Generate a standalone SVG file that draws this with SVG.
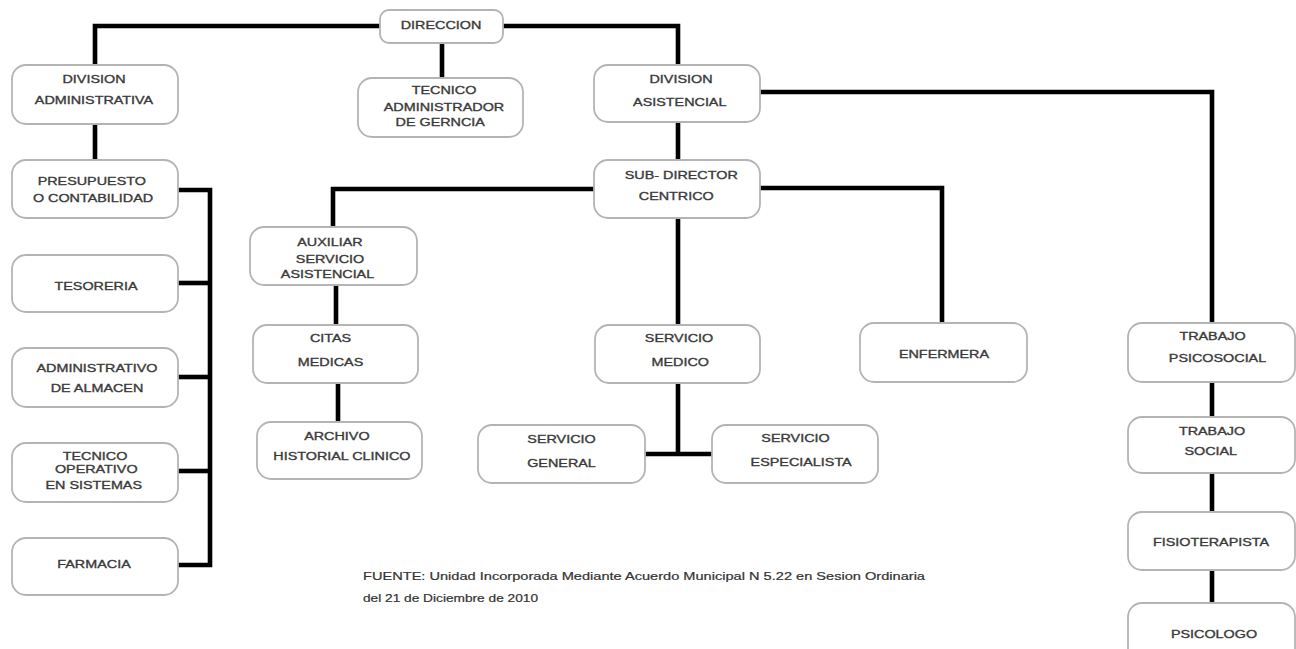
<svg xmlns="http://www.w3.org/2000/svg" width="1296" height="649" viewBox="0 0 1296 649">
<style>
.box{fill:#fff;stroke:#b4b4b4;stroke-width:1.8}
.t{font-family:"Liberation Sans",Arial,sans-serif;font-size:11.5px;fill:#3a3a3a;stroke:#3a3a3a;stroke-width:0.35;text-anchor:middle}
.c{fill:none;stroke:#000;stroke-width:4.6;stroke-linejoin:miter;stroke-linecap:butt}
.f{font-family:"Liberation Sans",Arial,sans-serif;font-size:11px;fill:#333;stroke:#333;stroke-width:0.2}
</style>
<rect width="1296" height="649" fill="#fff"/>
<g id="connectors">
<path class="c" d="M380,26 H95 V65"/>
<path class="c" d="M503,26 H678 V65"/>
<path class="c" d="M442,43 V78"/>
<path class="c" d="M95,124 V160"/>
<path class="c" d="M178,190 H210 V565 H178"/>
<path class="c" d="M178,283 H210"/>
<path class="c" d="M178,377 H210"/>
<path class="c" d="M178,471 H210"/>
<path class="c" d="M678,122 V160"/>
<path class="c" d="M760,92 H1212 V323"/>
<path class="c" d="M594,189 H333 V227"/>
<path class="c" d="M760,188 H942 V323"/>
<path class="c" d="M678,218 V325"/>
<path class="c" d="M336,285 V325"/>
<path class="c" d="M338,383 V422"/>
<path class="c" d="M678,383 V454"/>
<path class="c" d="M645,454 H712"/>
<path class="c" d="M1212,382 V417"/>
<path class="c" d="M1212,473 V512"/>
<path class="c" d="M1212,570 V603"/>
</g>
<g id="direccion">
<rect class="box" x="380" y="10" width="123" height="33" rx="9"/>
<text class="t" transform="matrix(1.25 0 0 1 441 29)">DIRECCION</text>
</g>
<g id="division-administrativa">
<rect class="box" x="12" y="65" width="166" height="59" rx="14"/>
<text class="t" transform="matrix(1.25 0 0 1 94 0)"><tspan x="0" y="83">DIVISION</tspan><tspan x="0" y="104">ADMINISTRATIVA</tspan></text>
</g>
<g id="tecnico-administrador">
<rect class="box" x="358" y="78" width="165" height="59" rx="14"/>
<text class="t" transform="matrix(1.25 0 0 1 444 0)"><tspan x="0" y="94">TECNICO</tspan><tspan x="0" y="111">ADMINISTRADOR</tspan><tspan x="-3" y="126.5">DE GERNCIA</tspan></text>
</g>
<g id="division-asistencial">
<rect class="box" x="594" y="65" width="166" height="57" rx="14"/>
<text class="t" transform="matrix(1.25 0 0 1 681 0)"><tspan x="0" y="83">DIVISION</tspan><tspan x="-1" y="106">ASISTENCIAL</tspan></text>
</g>
<g id="presupuesto">
<rect class="box" x="12" y="160" width="166" height="58" rx="14"/>
<text class="t" transform="matrix(1.25 0 0 1 93 0)"><tspan x="-1" y="185">PRESUPUESTO</tspan><tspan x="0" y="202.5">O CONTABILIDAD</tspan></text>
</g>
<g id="sub-director">
<rect class="box" x="594" y="160" width="166" height="58" rx="14"/>
<text class="t" transform="matrix(1.25 0 0 1 680 0)"><tspan x="1" y="179">SUB- DIRECTOR</tspan><tspan x="-3" y="200">CENTRICO</tspan></text>
</g>
<g id="tesoreria">
<rect class="box" x="12" y="255" width="166" height="57" rx="14"/>
<text class="t" transform="matrix(1.25 0 0 1 96 290)">TESORERIA</text>
</g>
<g id="administrativo-almacen">
<rect class="box" x="12" y="348" width="166" height="59" rx="14"/>
<text class="t" transform="matrix(1.25 0 0 1 97 0)"><tspan x="0" y="372.5">ADMINISTRATIVO</tspan><tspan x="0" y="392">DE ALMACEN</tspan></text>
</g>
<g id="tecnico-operativo">
<rect class="box" x="12" y="443" width="166" height="59" rx="14"/>
<text class="t" transform="matrix(1.25 0 0 1 95 0)"><tspan x="0" y="460">TECNICO</tspan><tspan x="1" y="473.5">OPERATIVO</tspan><tspan x="-1" y="489">EN SISTEMAS</tspan></text>
</g>
<g id="farmacia">
<rect class="box" x="12" y="538" width="166" height="57" rx="14"/>
<text class="t" transform="matrix(1.25 0 0 1 94 568)">FARMACIA</text>
</g>
<g id="auxiliar">
<rect class="box" x="250" y="227" width="167" height="58" rx="14"/>
<text class="t" transform="matrix(1.25 0 0 1 330 0)"><tspan x="0" y="246">AUXILIAR</tspan><tspan x="0" y="263">SERVICIO</tspan><tspan x="-2" y="278">ASISTENCIAL</tspan></text>
</g>
<g id="citas-medicas">
<rect class="box" x="253" y="325" width="165" height="58" rx="14"/>
<text class="t" transform="matrix(1.25 0 0 1 330.5 0)"><tspan x="0" y="342.5">CITAS</tspan><tspan x="0" y="366.5">MEDICAS</tspan></text>
</g>
<g id="archivo">
<rect class="box" x="257" y="422" width="165" height="57" rx="14"/>
<text class="t" transform="matrix(1.25 0 0 1 340 0)"><tspan x="-2.5" y="440.5">ARCHIVO</tspan><tspan x="1.5" y="460.5">HISTORIAL CLINICO</tspan></text>
</g>
<g id="servicio-medico">
<rect class="box" x="595" y="325" width="165" height="58" rx="14"/>
<text class="t" transform="matrix(1.25 0 0 1 679 0)"><tspan x="0" y="342.5">SERVICIO</tspan><tspan x="1" y="366.5">MEDICO</tspan></text>
</g>
<g id="enfermera">
<rect class="box" x="860" y="323" width="167" height="59" rx="14"/>
<text class="t" transform="matrix(1.25 0 0 1 944 357.5)">ENFERMERA</text>
</g>
<g id="trabajo-psicosocial">
<rect class="box" x="1128" y="323" width="167" height="59" rx="14"/>
<text class="t" transform="matrix(1.25 0 0 1 1215 0)"><tspan x="-2" y="340.5">TRABAJO</tspan><tspan x="2" y="362.5">PSICOSOCIAL</tspan></text>
</g>
<g id="servicio-general">
<rect class="box" x="478" y="425" width="167" height="58" rx="14"/>
<text class="t" transform="matrix(1.25 0 0 1 561.5 0)"><tspan x="0" y="443">SERVICIO</tspan><tspan x="0" y="467">GENERAL</tspan></text>
</g>
<g id="servicio-especialista">
<rect class="box" x="712" y="425" width="166" height="58" rx="14"/>
<text class="t" transform="matrix(1.25 0 0 1 798 0)"><tspan x="-2" y="442.5">SERVICIO</tspan><tspan x="2.5" y="466.5">ESPECIALISTA</tspan></text>
</g>
<g id="trabajo-social">
<rect class="box" x="1128" y="417" width="167" height="56" rx="14"/>
<text class="t" transform="matrix(1.25 0 0 1 1212 0)"><tspan x="0" y="435">TRABAJO</tspan><tspan x="-1" y="455">SOCIAL</tspan></text>
</g>
<g id="fisioterapista">
<rect class="box" x="1128" y="512" width="167" height="58" rx="14"/>
<text class="t" transform="matrix(1.25 0 0 1 1211 545.5)">FISIOTERAPISTA</text>
</g>
<g id="psicologo">
<rect class="box" x="1128" y="603" width="167" height="62" rx="14"/>
<text class="t" transform="matrix(1.25 0 0 1 1214 638)">PSICOLOGO</text>
</g>
<g id="fuente">
<text class="f" x="363" y="580" textLength="562" lengthAdjust="spacingAndGlyphs">FUENTE: Unidad Incorporada Mediante Acuerdo Municipal N 5.22 en Sesion Ordinaria</text>
<text class="f" x="363" y="602" textLength="175" lengthAdjust="spacingAndGlyphs">del 21 de Diciembre de 2010</text>
</g>
</svg>
